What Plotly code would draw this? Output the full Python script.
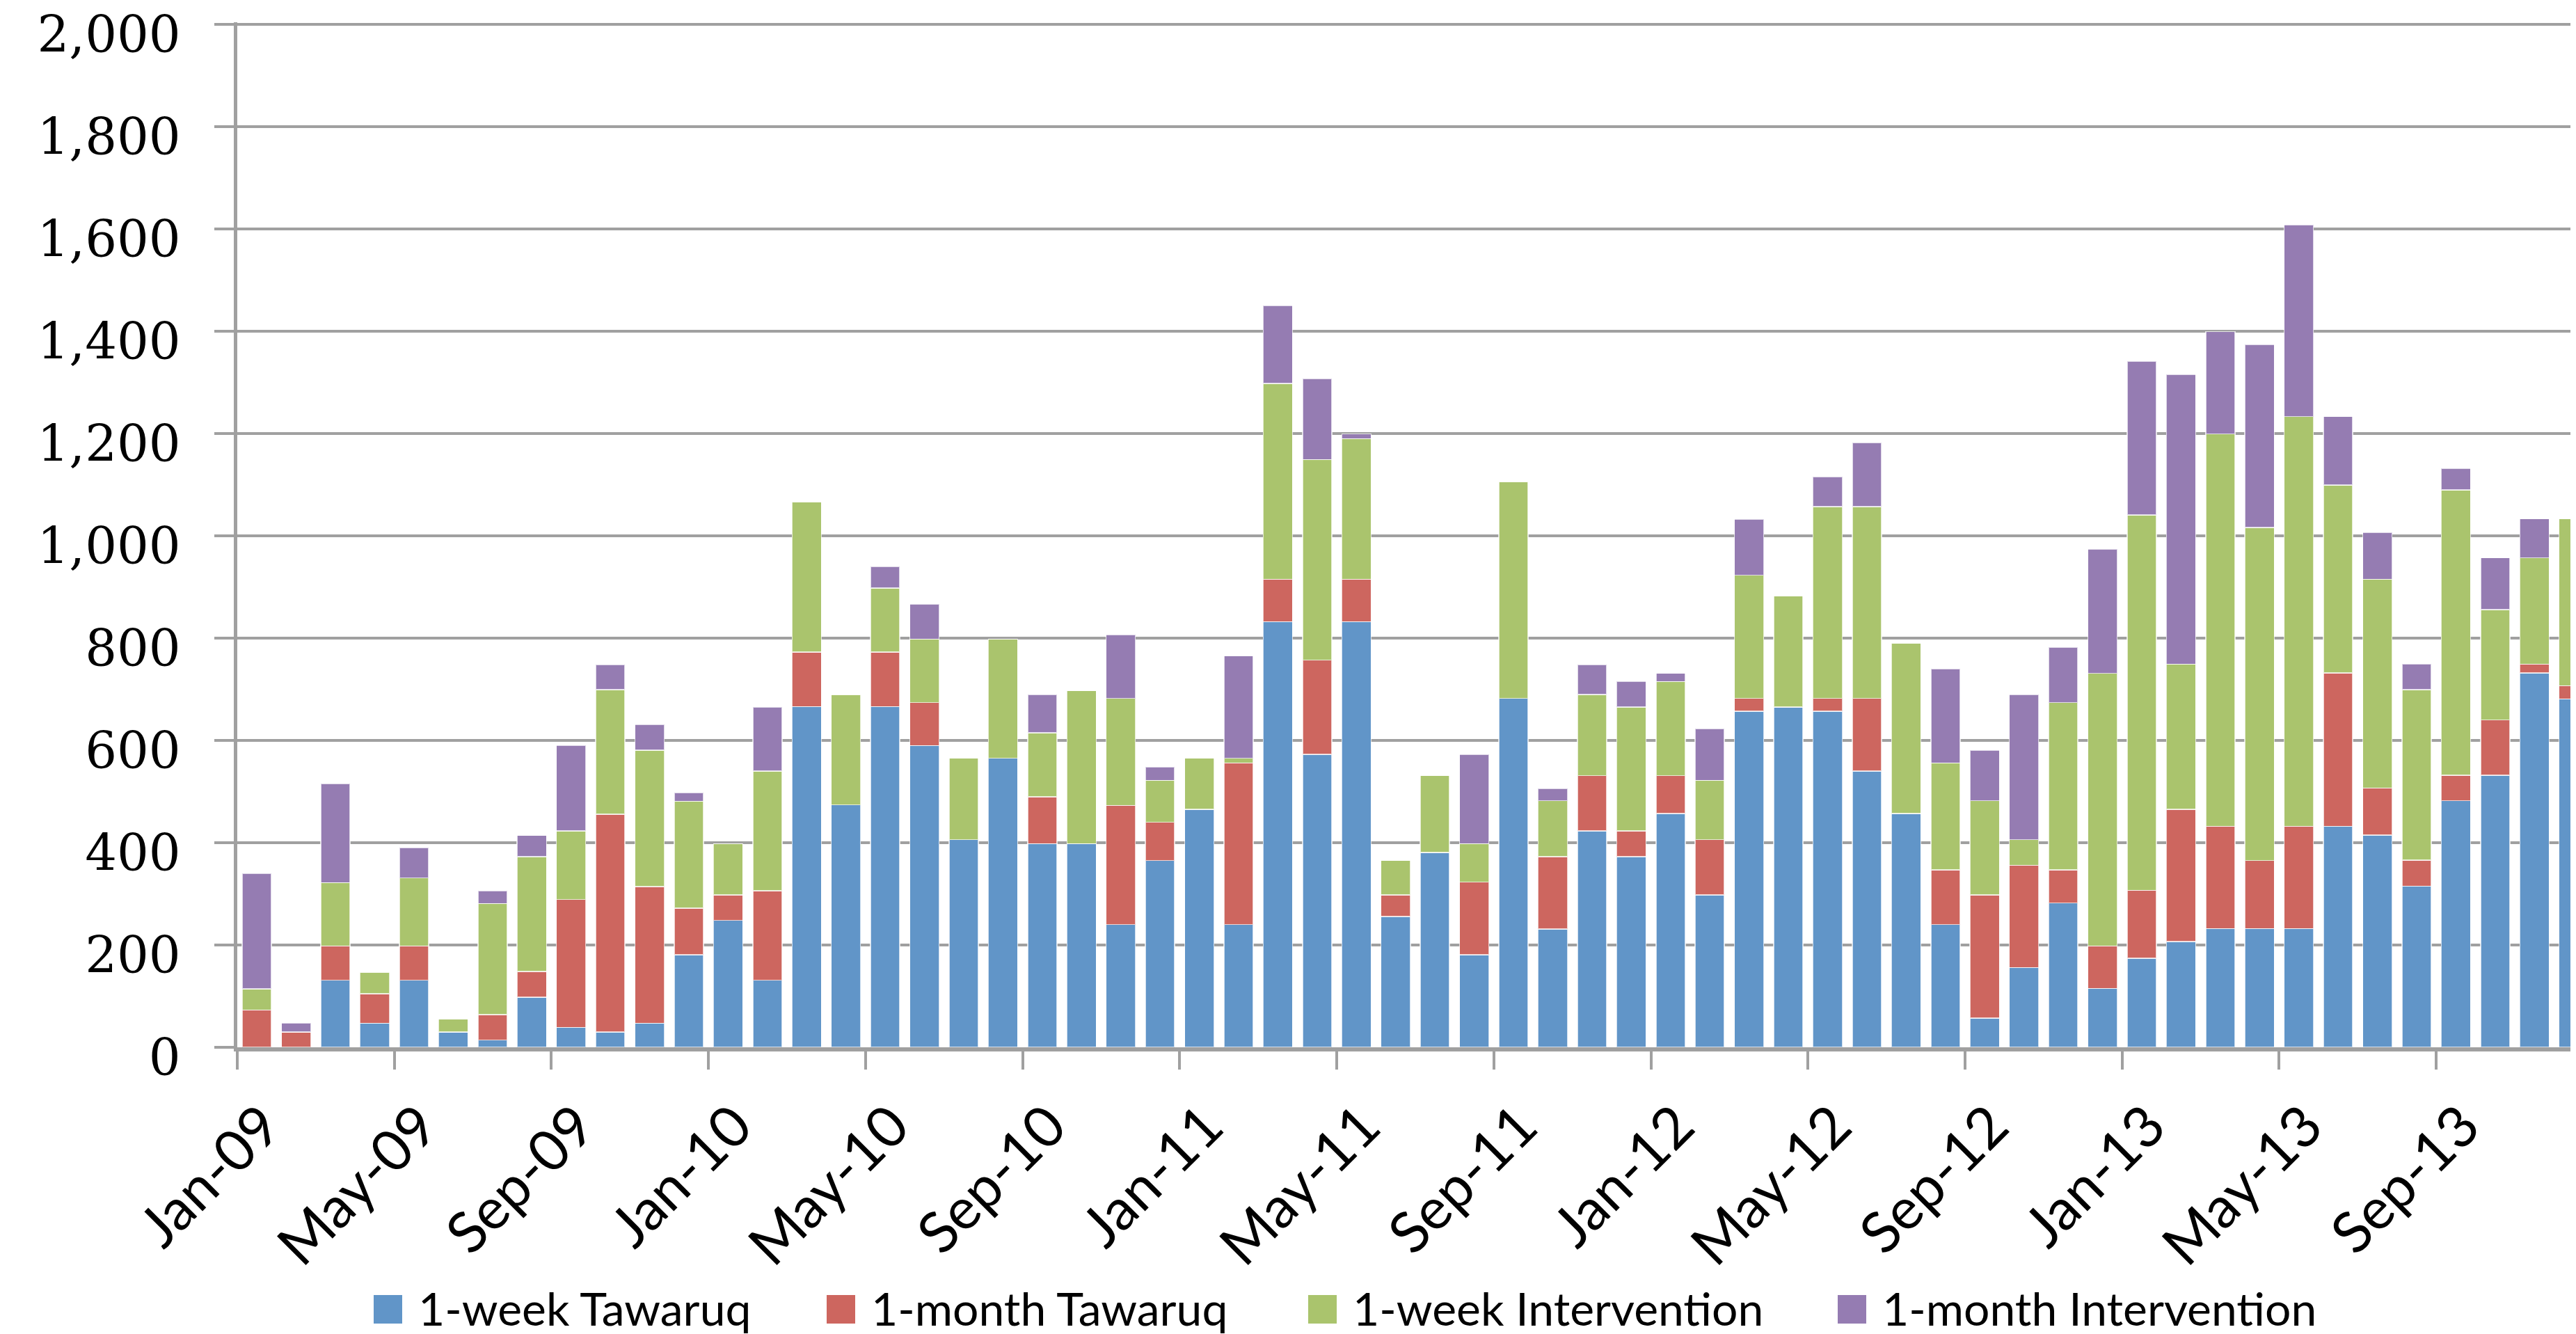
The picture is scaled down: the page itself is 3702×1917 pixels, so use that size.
import pandas as pd
import plotly.graph_objects as go

# monthly categories Jan-09 .. Dec-13
months = list(pd.date_range("2009-01-01", "2013-12-01", freq="MS").strftime("%b-%y"))

week_tawaruq = [
    0, 0, 131, 47, 131, 30, 14, 98, 39, 30, 47, 181,
    248, 131, 666, 474, 666, 590, 406, 565, 398, 398, 240, 365,
    465, 240, 832, 573, 832, 256, 381, 181, 682, 231, 423, 373,
    457, 298, 657, 665, 657, 540, 457, 240, 57, 156, 282, 115,
    174, 207, 232, 232, 232, 432, 415, 315, 482, 532, 732, 681,
]
month_tawaruq = [
    73, 30, 67, 58, 67, 0, 50, 50, 250, 426, 267, 91,
    50, 175, 107, 0, 107, 84, 0, 0, 92, 0, 233, 75,
    0, 316, 83, 184, 83, 42, 0, 142, 0, 142, 108, 50,
    74, 108, 25, 0, 25, 142, 0, 107, 241, 200, 65, 83,
    133, 258, 200, 133, 200, 300, 92, 51, 50, 108, 17, 26,
]
week_intervention = [
    41, 0, 124, 42, 133, 25, 217, 225, 134, 243, 267, 209,
    100, 234, 293, 216, 125, 124, 159, 233, 125, 299, 209, 82,
    100, 9, 383, 392, 275, 67, 150, 75, 424, 109, 159, 242,
    184, 116, 241, 217, 375, 375, 333, 209, 184, 50, 327, 533,
    734, 284, 767, 651, 801, 367, 408, 333, 558, 216, 208, 326,
]
month_intervention = [
    226, 17, 193, 0, 59, 0, 25, 41, 167, 49, 50, 17,
    0, 125, 0, 0, 42, 68, 0, 0, 75, 0, 125, 26,
    0, 200, 152, 158, 9, 0, 0, 175, 0, 24, 58, 50,
    16, 101, 109, 0, 58, 125, 0, 184, 99, 284, 108, 243,
    300, 566, 200, 358, 375, 134, 92, 50, 42, 101, 76, 0,
]

series_names = ["1-week Tawaruq", "1-month Tawaruq", "1-week Intervention", "1-month Intervention"]
series_values = [week_tawaruq, month_tawaruq, week_intervention, month_intervention]
colors = ["#6195C8", "#CD665F", "#AAC46D", "#957CB2"]

tick_labels = ["Jan-09", "May-09", "Sep-09", "Jan-10", "May-10", "Sep-10", "Jan-11", "May-11",
               "Sep-11", "Jan-12", "May-12", "Sep-12", "Jan-13", "May-13", "Sep-13"]

W, H = 3702, 1917
L, R, T, B = 333, 0, 24, 420
PW, PH = W - L - R, H - T - B
GREY = "#A0A0A0"

x = list(range(len(months)))
tick_pos = [months.index(t) for t in tick_labels]

fig = go.Figure()
for name, vals, col in zip(series_names, series_values, colors):
    fig.add_trace(go.Bar(
        x=x, y=vals, name=name,
        marker=dict(color=col, line=dict(color="rgba(255,255,255,0.7)", width=1.5)),
        showlegend=False,
    ))

fig.update_layout(
    width=W, height=H,
    margin=dict(l=L, r=R, t=T, b=B, autoexpand=False),
    barmode="stack", bargap=0.255,
    plot_bgcolor="white", paper_bgcolor="white",
)

fig.update_yaxes(
    range=[0, 2004], tickmode="array", tickvals=list(range(0, 2001, 200)), tickformat=",",
    showgrid=True, gridcolor=GREY, gridwidth=4,
    showline=True, linecolor=GREY, linewidth=5,
    ticks="outside", ticklen=28, tickwidth=4, tickcolor=GREY,
    tickfont=dict(family="DejaVu Serif", size=72, color="black"),
    ticklabelstandoff=34, ticklabelshift=15, ticklabeloverflow="allow",
    zeroline=False, automargin=False,
)
fig.update_xaxes(
    range=[-0.5, 59.2],
    tickmode="array", tickvals=tick_pos, ticktext=tick_labels,
    tickangle=-45, ticks="",
    minor=dict(tickmode="array", tickvals=[p - 0.5 for p in tick_pos],
               ticks="outside", ticklen=26, tickwidth=4, tickcolor=GREY),
    showline=True, linecolor=GREY, linewidth=6,
    showgrid=False, zeroline=False,
    tickfont=dict(family="Lato", size=82, color="black"),
    ticklabelstandoff=26, ticklabelshift=10, ticklabeloverflow="allow",
    automargin=False,
)

# legend drawn by hand so the keys can be as large as in the original
def px_x(p):
    return (p - L) / PW

def px_y(p):
    return (T + PH - p) / PH

key_left = [529, 1180, 1872, 2633]
key_size = 41
key_top = 1853
for k, name, col in zip(key_left, series_names, colors):
    fig.add_shape(type="rect", xref="paper", yref="paper",
                  x0=px_x(k), x1=px_x(k + key_size),
                  y0=px_y(key_top + key_size), y1=px_y(key_top),
                  fillcolor=col, line=dict(width=0))
    fig.add_annotation(x=px_x(k + 62), y=px_y(key_top + key_size / 2 - 2),
                       xref="paper", yref="paper", xanchor="left", yanchor="middle",
                       text=name, showarrow=False,
                       font=dict(family="Lato", size=66, color="black"))

fig.write_html("out.html")
